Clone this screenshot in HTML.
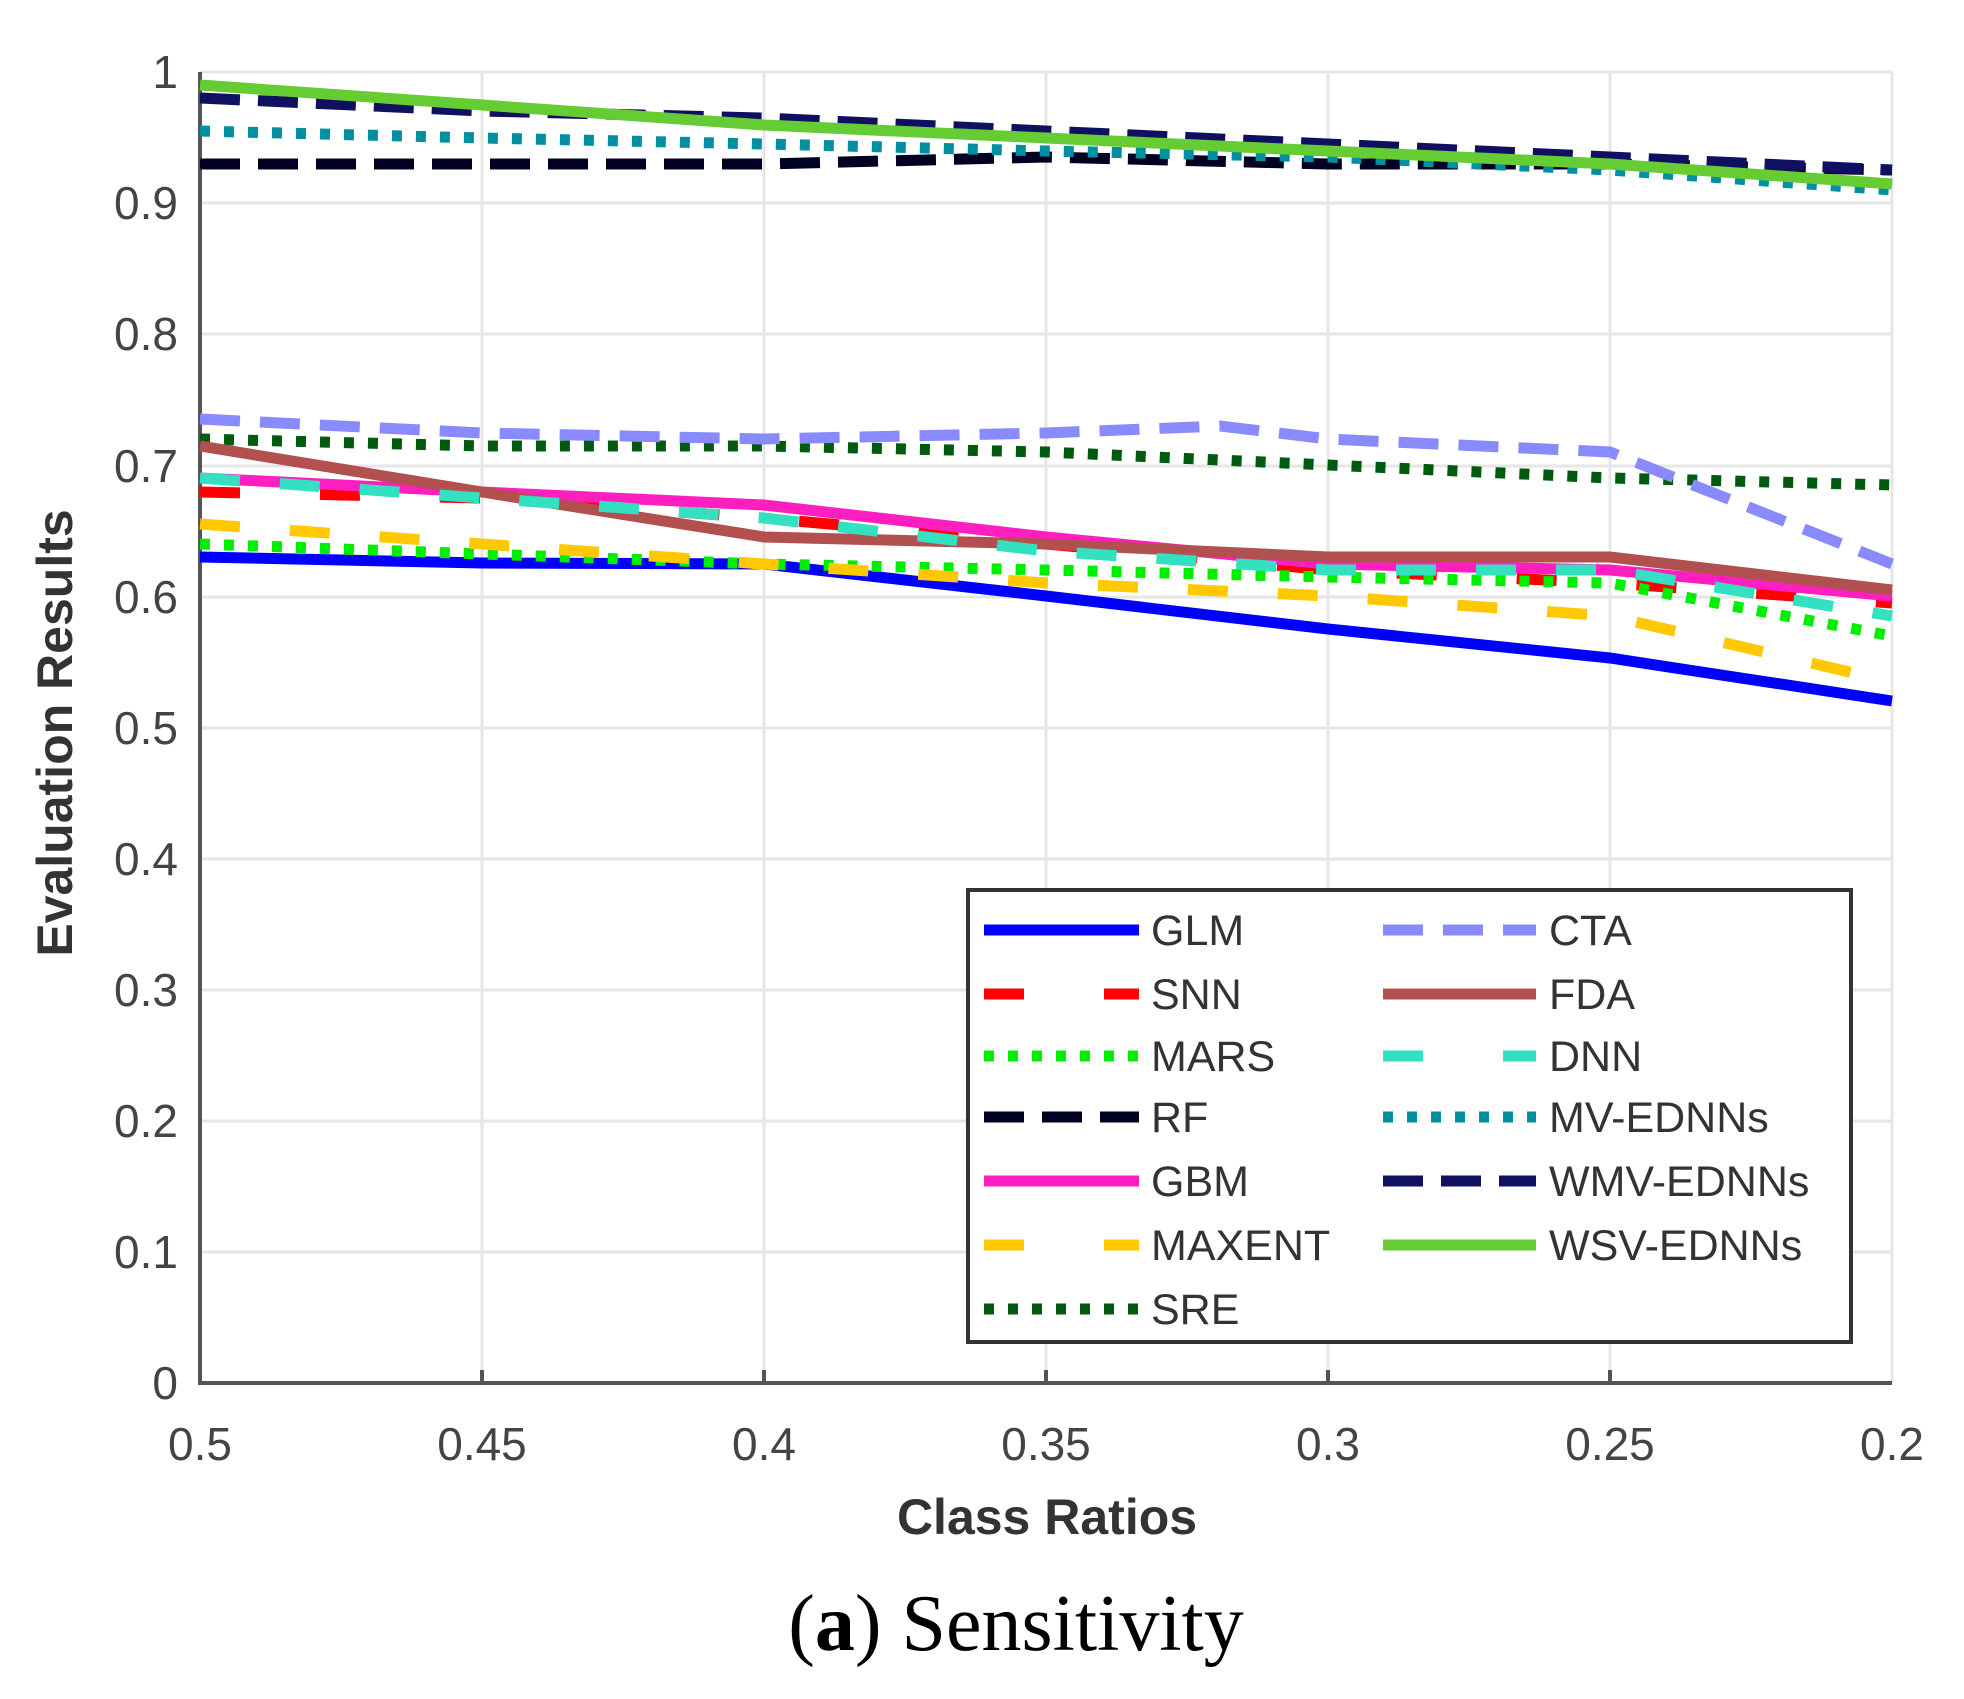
<!DOCTYPE html>
<html><head><meta charset="utf-8"><style>body{margin:0;background:#fff}</style></head><body>
<svg width="1964" height="1694" xmlns="http://www.w3.org/2000/svg" font-family="Liberation Sans, sans-serif">
<rect width="1964" height="1694" fill="#fff"/>
<g stroke="#e6e6e6" stroke-width="3">
<line x1="482" y1="72" x2="482" y2="1383"/><line x1="764" y1="72" x2="764" y2="1383"/><line x1="1046" y1="72" x2="1046" y2="1383"/><line x1="1328" y1="72" x2="1328" y2="1383"/><line x1="1610" y1="72" x2="1610" y2="1383"/><line x1="1892" y1="72" x2="1892" y2="1383"/>
<line x1="200" y1="72" x2="1892" y2="72"/><line x1="200" y1="203" x2="1892" y2="203"/><line x1="200" y1="334" x2="1892" y2="334"/><line x1="200" y1="466" x2="1892" y2="466"/><line x1="200" y1="597" x2="1892" y2="597"/><line x1="200" y1="728" x2="1892" y2="728"/><line x1="200" y1="859" x2="1892" y2="859"/><line x1="200" y1="990" x2="1892" y2="990"/><line x1="200" y1="1121" x2="1892" y2="1121"/><line x1="200" y1="1252" x2="1892" y2="1252"/>
</g>
<g stroke="#555" stroke-width="4" fill="none">
<polyline points="200,72 200,1383 1892,1383"/>
<line x1="482" y1="1383" x2="482" y2="1370"/><line x1="764" y1="1383" x2="764" y2="1370"/><line x1="1046" y1="1383" x2="1046" y2="1370"/><line x1="1328" y1="1383" x2="1328" y2="1370"/><line x1="1610" y1="1383" x2="1610" y2="1370"/>
</g>
<g fill="none" stroke-width="11">
<polyline stroke="#0000ff" points="200,557 482,563 764,564 1046,596 1328,629 1610,658 1892,701"/>
<polyline stroke="#ff0000" stroke-dasharray="40 80" points="200,492 482,498 764,518 1046,544 1328,570 1610,583 1892,603"/>
<polyline stroke="#00ee00" stroke-dasharray="10 14" points="200,544 482,554 764,564 1046,570 1328,577 1610,583 1892,636"/>
<polyline stroke="#000022" stroke-dasharray="40 18" points="200,164 482,164 764,164 1046,157 1328,164 1610,164 1892,170"/>
<polyline stroke="#ff1fc0" points="200,478 482,492 764,505 1046,537 1328,564 1610,570 1892,596"/>
<polyline stroke="#ffc800" stroke-dasharray="40 50" points="200,524 482,544 764,564 1046,583 1328,596 1610,616 1892,682"/>
<polyline stroke="#005a10" stroke-dasharray="10 14" points="200,439 482,446 764,446 1046,452 1328,465 1610,478 1892,485"/>
<polyline stroke="#8a8aff" stroke-dasharray="40 20" points="200,419 482,433 764,439 1046,433 1220,426 1328,439 1610,452 1892,564"/>
<polyline stroke="#b25050" points="200,446 482,492 764,537 1046,544 1328,557 1610,557 1892,590"/>
<polyline stroke="#33e0c0" stroke-dasharray="40 40" points="200,478 482,498 764,518 1046,551 1328,570 1610,570 1892,616"/>
<polyline stroke="#0090a0" stroke-dasharray="10 14" points="200,131 482,138 764,144 1046,151 1328,157 1610,170 1892,190"/>
<polyline stroke="#101060" stroke-dasharray="40 18" points="200,98 482,111 764,118 1046,131 1328,144 1610,157 1892,170"/>
<polyline stroke="#66cc33" points="200,85 482,105 764,125 1046,138 1328,151 1610,164 1892,184"/>
</g>
<g font-size="46" fill="#444" text-anchor="end">
<text x="178" y="1399">0</text><text x="178" y="1268">0.1</text><text x="178" y="1137">0.2</text><text x="178" y="1006">0.3</text><text x="178" y="875">0.4</text><text x="178" y="744">0.5</text><text x="178" y="613">0.6</text><text x="178" y="482">0.7</text><text x="178" y="350">0.8</text><text x="178" y="219">0.9</text><text x="178" y="88">1</text>
</g>
<g font-size="46" fill="#444" text-anchor="middle">
<text x="200" y="1460">0.5</text><text x="482" y="1460">0.45</text><text x="764" y="1460">0.4</text><text x="1046" y="1460">0.35</text><text x="1328" y="1460">0.3</text><text x="1610" y="1460">0.25</text><text x="1892" y="1460">0.2</text>
</g>
<text x="1047" y="1534" font-size="50" font-weight="bold" fill="#333" text-anchor="middle">Class Ratios</text>
<text transform="translate(72,733) rotate(-90)" font-size="50" font-weight="bold" fill="#333" text-anchor="middle">Evaluation Results</text>
<text x="1016" y="1650" font-size="80" font-family="Liberation Serif, serif" text-anchor="middle">(<tspan font-weight="bold">a</tspan>) Sensitivity</text>
<rect x="968" y="890" width="883" height="452" fill="#fff" stroke="#333" stroke-width="4"/>
<g fill="none" stroke-width="11">
<line x1="984" y1="930" x2="1139" y2="930" stroke="#0000ff"/>
<line x1="984" y1="994" x2="1139" y2="994" stroke="#ff0000" stroke-dasharray="40 80"/>
<line x1="984" y1="1056" x2="1139" y2="1056" stroke="#00ee00" stroke-dasharray="10 14"/>
<line x1="984" y1="1117" x2="1139" y2="1117" stroke="#000022" stroke-dasharray="40 18"/>
<line x1="984" y1="1181" x2="1139" y2="1181" stroke="#ff1fc0"/>
<line x1="984" y1="1245" x2="1139" y2="1245" stroke="#ffc800" stroke-dasharray="40 80"/>
<line x1="984" y1="1309" x2="1139" y2="1309" stroke="#005a10" stroke-dasharray="10 14"/>
<line x1="1383" y1="930" x2="1536" y2="930" stroke="#8a8aff" stroke-dasharray="40 20"/>
<line x1="1383" y1="994" x2="1536" y2="994" stroke="#b25050"/>
<line x1="1383" y1="1056" x2="1536" y2="1056" stroke="#33e0c0" stroke-dasharray="40 80"/>
<line x1="1383" y1="1117" x2="1536" y2="1117" stroke="#0090a0" stroke-dasharray="10 14"/>
<line x1="1383" y1="1181" x2="1536" y2="1181" stroke="#101060" stroke-dasharray="40 18"/>
<line x1="1383" y1="1245" x2="1536" y2="1245" stroke="#66cc33"/>
</g>
<g font-size="43" fill="#333">
<text x="1151" y="945">GLM</text><text x="1151" y="1009">SNN</text><text x="1151" y="1071">MARS</text><text x="1151" y="1132">RF</text><text x="1151" y="1196">GBM</text><text x="1151" y="1260">MAXENT</text><text x="1151" y="1324">SRE</text>
<text x="1549" y="945">CTA</text><text x="1549" y="1009">FDA</text><text x="1549" y="1071">DNN</text><text x="1549" y="1132">MV-EDNNs</text><text x="1549" y="1196">WMV-EDNNs</text><text x="1549" y="1260">WSV-EDNNs</text>
</g>
</svg>
</body></html>
